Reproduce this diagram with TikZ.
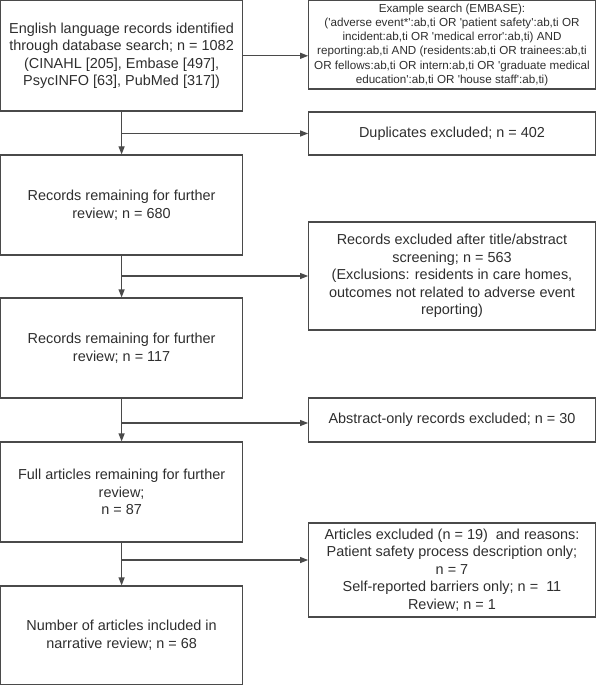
\documentclass[tikz,border=0pt]{standalone}
\usepackage{fontspec}
\newfontfamily\arialf{Liberation Sans}
\usetikzlibrary{arrows.meta}
\definecolor{linegray}{HTML}{4A4A4A}
\definecolor{textgray}{HTML}{2E2E2E}
\tikzset{
  box/.style={draw=linegray, line width=1.1bp, text=textgray, align=center, inner sep=0pt,
    font=\arialf\fontsize{14.5}{17.5}\selectfont},
  smallbox/.style={box, font=\arialf\fontsize{11.7}{14.2}\selectfont},
  arr/.style={draw=linegray, line width=1.1bp, -{Triangle[length=8bp,width=6bp]}},
  ln/.style={draw=linegray, line width=1.1bp}
}
\begin{document}
\begin{tikzpicture}[x=1bp,y=-1bp]
\useasboundingbox (0,0) rectangle (596,685);
% left column
\node[box, minimum width=242bp, minimum height=110.4bp] (A) at (121.6,55.8)
  {English language records identified\\through database search; n = 1082\\(CINAHL [205], Embase [497],\\PsycINFO [63], PubMed [317])};
\node[box, minimum width=242bp, minimum height=100bp] (L2) at (121.6,205)
  {Records remaining for further\\review; n = 680};
\node[box, minimum width=242bp, minimum height=100bp] (L3) at (121.6,348)
  {Records remaining for further\\review; n = 117};
\node[box, minimum width=242bp, minimum height=100bp] (L4) at (121.6,492)
  {Full articles remaining for further\\review;\\n = 87};
\node[box, minimum width=242bp, minimum height=98.4bp] (L5) at (121.6,635.2)
  {Number of articles included in\\narrative review; n = 68};
% right column
\node[smallbox, minimum width=286.7bp, minimum height=88.4bp] (B) at (452,44.8)
  {Example search (EMBASE):\\('adverse event*':ab,ti OR 'patient safety':ab,ti OR\\incident:ab,ti OR 'medical error':ab,ti) AND\\reporting:ab,ti AND (residents:ab,ti OR trainees:ab,ti\\OR fellows:ab,ti OR intern:ab,ti OR 'graduate medical\\education':ab,ti OR 'house staff':ab,ti)};
\node[box, minimum width=286.7bp, minimum height=43bp] (Dup) at (452,133.5)
  {Duplicates excluded; n = 402};
\node[box, minimum width=286.7bp, minimum height=108bp] (C) at (452,276)
  {Records excluded after title/abstract\\screening; n = 563\\(Exclusions: residents in care homes,\\outcomes not related to adverse event\\reporting)};
\node[box, minimum width=286.7bp, minimum height=44bp] (Abs) at (452,420)
  {Abstract-only records excluded; n = 30};
\node[box, minimum width=286.7bp, minimum height=94bp] (Art) at (452,570)
  {Articles excluded (n = 19)\ \ and reasons:\\Patient safety process description only;\\n = 7\\Self-reported barriers only; n = \ 11\\Review; n = 1};
% junctions
\coordinate (j1) at (121.6,133.5);
\coordinate (j2) at (121.6,276);
\coordinate (j3) at (121.6,423);
\coordinate (j4) at (121.6,560);
% connectors
\draw[arr] (A.east) -- (B.west |- A.east);
\draw[arr] (A.south) -- (L2.north);
\draw[arr] (j1) -- (Dup.west);
\draw[arr] (L2.south) -- (L3.north);
\draw[arr] (j2) -- (C.west);
\draw[arr] (L3.south) -- (L4.north);
\draw[arr] (j3) -- (Abs.west |- j3);
\draw[arr] (L4.south) -- (L5.north);
\draw[arr] (j4) -- (Art.west |- j4);
\end{tikzpicture}
\end{document}
